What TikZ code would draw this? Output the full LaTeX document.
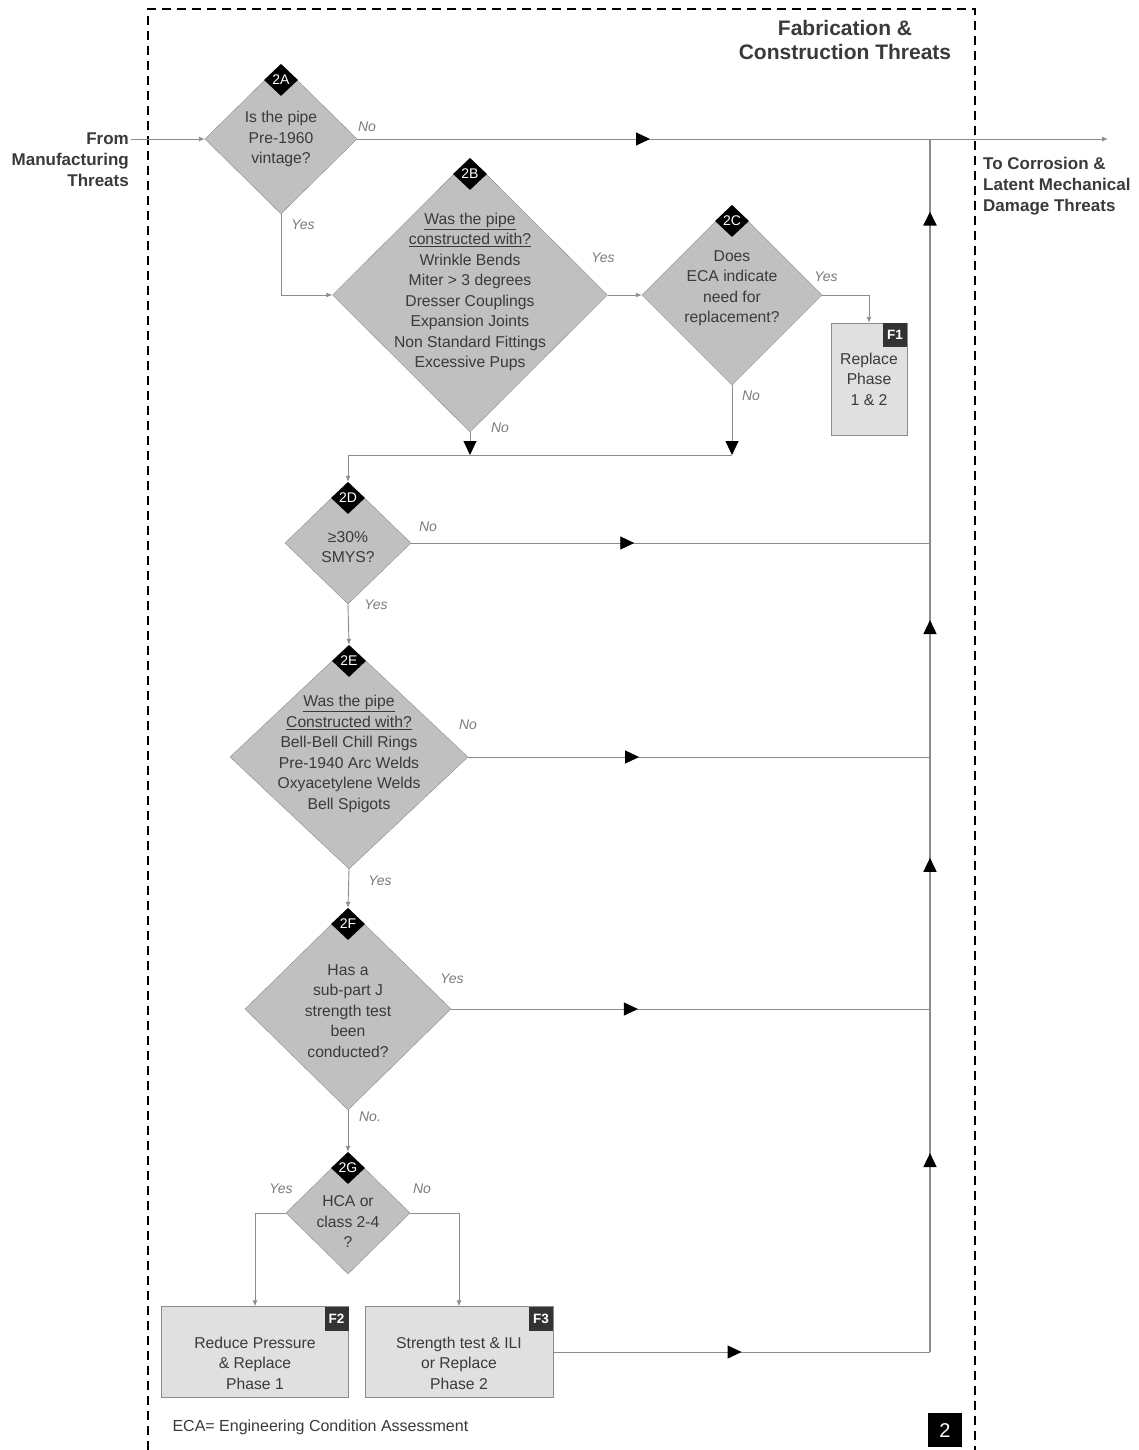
\documentclass[tikz,border=0pt]{standalone}
\usepackage{fontspec}
\setmainfont{Liberation Sans}
\usetikzlibrary{shapes.geometric,arrows.meta,decorations.markings}

\definecolor{diafill}{HTML}{C0C0C0}
\definecolor{boxfill}{HTML}{E0E0E0}
\definecolor{inkgray}{HTML}{3A3A3A}
\definecolor{linegray}{HTML}{8C8C8C}
\definecolor{notegray}{HTML}{7A7A7A}
\definecolor{badgegray}{HTML}{333333}

\tikzset{
  decision/.style={diamond, draw=linegray, fill=diafill, inner sep=0pt},
  action/.style={rectangle, draw=linegray, fill=boxfill, inner sep=0pt},
  qtext/.style={text=inkgray, align=center, font=\fontsize{15.7}{20.5}\selectfont},
  badge/.style={diamond, fill=black, text=white, inner sep=0pt, anchor=north,
    minimum width=34pt, minimum height=32pt, font=\fontsize{14}{14}\selectfont},
  fbadge/.style={rectangle, fill=badgegray, text=white, inner sep=0pt, anchor=north east,
    minimum size=24pt, font=\fontsize{13.5}{13.5}\selectfont\bfseries},
  note/.style={text=notegray, font=\fontsize{14}{14}\selectfont\itshape},
  sidetext/.style={text=inkgray, font=\fontsize{17}{21}\selectfont\bfseries},
  flow/.style={draw=linegray, line width=0.9pt},
  trunk/.style={draw=linegray, line width=1.6pt},
  smalltip/.style={-{Latex[length=6pt,width=5pt]}},
  bigtip/.style={-{Triangle[length=14pt,width=13pt,color=black]}},
  midtip/.style={postaction={decorate}, decoration={markings,
    mark=at position #1 with {\arrow[black]{Triangle[length=14pt,width=13pt]}}}},
}

\begin{document}
\begin{tikzpicture}[x=1pt, y=-1pt]
  \useasboundingbox (0,0) rectangle (1138,1450);

  % frame
  \draw[line width=2pt, dash pattern=on 9pt off 6pt] (148,1450) -- (148,9) -- (975,9) -- (975,1450);
  \node[align=center, text=inkgray, font=\fontsize{21}{24}\selectfont\bfseries] (title) at (845,40)
    {Fabrication \&\\Construction Threats};
  \node[sidetext, align=right, anchor=east, inner sep=2pt] (from) at (131,160)
    {From\\Manufacturing\\Threats};
  \node[sidetext, align=left, anchor=west, inner sep=2pt] (to) at (981,186)
    {To Corrosion \&\\Latent Mechanical\\Damage Threats};

  % decisions
  \node[decision, minimum width=152pt, minimum height=150pt,
    label={[qtext]center:{Is the pipe\\Pre-1960\\vintage?}}] (q2a) at (281,139) {};
  \node[decision, minimum width=275pt, minimum height=274pt,
    label={[qtext, yshift=3pt]center:{\underline{Was the pipe}\\\underline{constructed with?}\\Wrinkle Bends\\Miter > 3 degrees\\Dresser Couplings\\Expansion Joints\\Non Standard Fittings\\Excessive Pups}}] (q2b) at (470,295) {};
  \node[decision, minimum width=180pt, minimum height=180pt,
    label={[qtext, yshift=7pt]center:{Does\\ECA indicate\\need for\\replacement?}}] (q2c) at (732,295) {};
  \node[decision, minimum width=126pt, minimum height=122pt,
    label={[qtext, yshift=-4pt]center:{≥30\%\\SMYS?}}] (q2d) at (348,543) {};
  \node[decision, minimum width=238pt, minimum height=224pt,
    label={[qtext, yshift=3pt]center:{\underline{Was the pipe}\\\underline{Constructed with?}\\Bell-Bell Chill Rings\\Pre-1940 Arc Welds\\Oxyacetylene Welds\\Bell Spigots}}] (q2e) at (349,757) {};
  \node[decision, minimum width=206pt, minimum height=202pt,
    label={[qtext, yshift=-2pt]center:{Has a\\sub-part J\\strength test\\been\\conducted?}}] (q2f) at (348,1009) {};
  \node[decision, minimum width=124pt, minimum height=122pt,
    label={[qtext, yshift=-9pt]center:{HCA or\\class 2-4\\?}}] (q2g) at (348,1213) {};

  \node[badge] (b2a) at (q2a.north) {2A};
  \node[badge] (b2b) at (q2b.north) {2B};
  \node[badge] (b2c) at (q2c.north) {2C};
  \node[badge] (b2d) at (q2d.north) {2D};
  \node[badge] (b2e) at (q2e.north) {2E};
  \node[badge] (b2f) at (q2f.north) {2F};
  \node[badge] (b2g) at (q2g.north) {2G};

  % actions
  \node[action, minimum width=76pt, minimum height=112pt,
    label={[qtext]center:{Replace\\Phase\\1 \& 2}}] (f1) at (869,379) {};
  \node[action, minimum width=187pt, minimum height=91pt,
    label={[qtext, yshift=-11pt]center:{Reduce Pressure\\\& Replace\\Phase 1}}] (f2) at (255,1352) {};
  \node[action, minimum width=188pt, minimum height=91pt,
    label={[qtext, yshift=-11pt]center:{Strength test \& ILI\\or Replace\\Phase 2}}] (f3) at (459,1352) {};
  \node[fbadge] (bf1) at (f1.north east) {F1};
  \node[fbadge] (bf2) at (f2.north east) {F2};
  \node[fbadge] (bf3) at (f3.north east) {F3};

  % junctions
  \coordinate (out) at (1108,139);
  \coordinate (jt) at (930,139);
  \coordinate (j2) at (930,543);
  \coordinate (j3) at (930,757);
  \coordinate (j4) at (930,1009);
  \coordinate (j5) at (930,1352);
  \coordinate (jb) at (470,455);
  \coordinate (jc) at (732,455);

  % connectors
  \draw[flow, smalltip] (from.east |- q2a.west) -- (q2a.west);
  \draw[flow, smalltip, midtip=0.39] (q2a.east) -- (out);
  \draw[flow, smalltip] (q2a.south) |- (q2b.west);
  \draw[flow, smalltip] (q2b.east) -- (q2c.west);
  \draw[flow, smalltip] (q2c.east) -| (f1.north);
  \draw[flow, bigtip] (q2b.south) -- (jb);
  \draw[flow, bigtip] (q2c.south) -- (jc);
  \draw[flow, smalltip] (jc) -| (q2d.north);
  \draw[flow, midtip=0.43] (q2d.east) -- (j2);
  \draw[flow, midtip=0.37] (q2e.east) -- (j3);
  \draw[flow, smalltip] (q2d.south) -- (q2e.north);
  \draw[flow, smalltip] (q2e.south) -- (q2f.north);
  \draw[flow, midtip=0.39] (q2f.east) -- (j4);
  \draw[flow, smalltip] (q2f.south) -- (q2g.north);
  \draw[flow, smalltip] (q2g.west) -| (f2.north);
  \draw[flow, smalltip] (q2g.east) -| (f3.north);
  \draw[flow, midtip=0.5] (f3.east) -- (j5);
  \draw[trunk, midtip=0.58] (j5) -- (j4);
  \draw[trunk, midtip=0.6] (j4) -- (j3);
  \draw[trunk, midtip=0.64] (j3) -- (j2);
  \draw[trunk, line width=2.6pt, midtip=0.82] (j2) -- (jt);

  % yes / no
  \node[note] (n2a) at (367,127) {No};
  \node[note] (y2a) at (303,225) {Yes};
  \node[note] (y2b) at (603,258) {Yes};
  \node[note] (n2b) at (500,428) {No};
  \node[note] (y2c) at (826,277) {Yes};
  \node[note] (n2c) at (751,396) {No};
  \node[note] (n2d) at (428,527) {No};
  \node[note] (y2d) at (376,605) {Yes};
  \node[note] (n2e) at (468,725) {No};
  \node[note] (y2e) at (380,881) {Yes};
  \node[note] (y2f) at (452,979) {Yes};
  \node[note] (n2f) at (370,1117) {No.};
  \node[note] (y2g) at (281,1189) {Yes};
  \node[note] (n2g) at (422,1189) {No};

  \node[anchor=west, text=inkgray, font=\fontsize{16}{16}\selectfont] (eca) at (169,1427)
    {ECA= Engineering Condition Assessment};
  \node[rectangle, fill=black, text=white, minimum size=34pt, inner sep=0pt,
    font=\fontsize{20}{20}\selectfont] (page) at (945,1430) {2};
\end{tikzpicture}
\end{document}
